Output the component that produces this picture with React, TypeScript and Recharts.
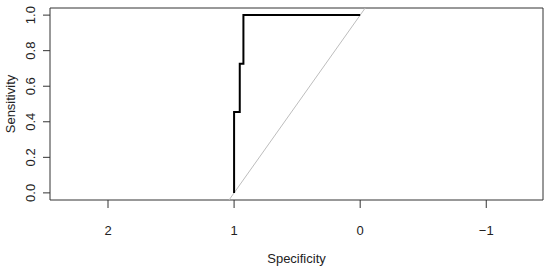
import React from "react";
import {
  LineChart,
  Line,
  XAxis,
  YAxis,
  ReferenceLine,
  ReferenceArea,
} from "recharts";

// ROC curve points (specificity, sensitivity)
const specificity = [1, 1, 0.955, 0.955, 0.926, 0.926, 0];
const sensitivity = [0, 0.455, 0.455, 0.727, 0.727, 1, 1];

const xTicks = [2, 1, 0, -1];
const yTicks = [0, 0.2, 0.4, 0.6, 0.8, 1];
const xDomain: [number, number] = [-1.45, 2.46];
const yDomain: [number, number] = [-0.04, 1.04];

const data = specificity.map((s, i) => ({ spec: s, sens: sensitivity[i] }));

const font = "'Liberation Sans', Arial, sans-serif";

const XTick = (props: any) => {
  const { x, y, payload } = props;
  const v = payload.value as number;
  const txt = v < 0 ? "\u2212" + Math.abs(v) : String(v);
  return (
    <text
      x={x}
      y={y + 20}
      textAnchor="middle"
      dominantBaseline="central"
      fontSize={13}
      fontFamily={font}
      fill="#222"
    >
      {txt}
    </text>
  );
};

const YTick = (props: any) => {
  const { x, y, payload } = props;
  const cx = x - 10;
  return (
    <text
      x={cx}
      y={y}
      transform={`rotate(-90 ${cx} ${y})`}
      textAnchor="middle"
      dominantBaseline="central"
      fontSize={13}
      fontFamily={font}
      fill="#222"
    >
      {(payload.value as number).toFixed(1)}
    </text>
  );
};

const App = () => {
  return (
    <div style={{ position: "absolute", left: 0, top: 0, background: "#fff" }}>
      <LineChart
        width={550}
        height={271}
        data={data}
        margin={{ top: 8, right: 7, left: 0, bottom: 0 }}
      >
        <XAxis
          dataKey="spec"
          type="number"
          domain={xDomain}
          reversed
          allowDataOverflow
          ticks={xTicks}
          height={71}
          axisLine={false}
          tickSize={8}
          tickLine={{ stroke: "#333" }}
          tick={<XTick />}
          label={(p: any) => {
            const vb = p.viewBox;
            return (
              <text
                x={vb.x + vb.width / 2}
                y={258}
                textAnchor="middle"
                dominantBaseline="central"
                fontSize={13}
                fontFamily={font}
                fill="#222"
              >
                Specificity
              </text>
            );
          }}
        />
        <YAxis
          dataKey="sens"
          type="number"
          domain={yDomain}
          allowDataOverflow
          ticks={yTicks}
          width={50}
          axisLine={false}
          tickSize={7}
          tickLine={{ stroke: "#333" }}
          tick={<YTick />}
          label={(p: any) => {
            const vb = p.viewBox;
            const cy = vb.y + vb.height / 2;
            return (
              <text
                x={10}
                y={cy}
                transform={`rotate(-90 10 ${cy})`}
                textAnchor="middle"
                dominantBaseline="central"
                fontSize={13}
                fontFamily={font}
                fill="#222"
              >
                Sensitivity
              </text>
            );
          }}
        />
        <ReferenceArea
          x1={xDomain[0]}
          x2={xDomain[1]}
          y1={yDomain[0]}
          y2={yDomain[1]}
          fill="none"
          fillOpacity={0}
          stroke="#333"
          strokeWidth={1}
        />
        <ReferenceLine
          segment={[
            { x: 1.04, y: -0.04 },
            { x: -0.04, y: 1.04 },
          ]}
          stroke="#bdbdbd"
          strokeWidth={1}
        />
        <Line
          dataKey="sens"
          type="linear"
          stroke="#000"
          strokeWidth={2}
          dot={false}
          isAnimationActive={false}
        />
      </LineChart>
    </div>
  );
};

export default App;
